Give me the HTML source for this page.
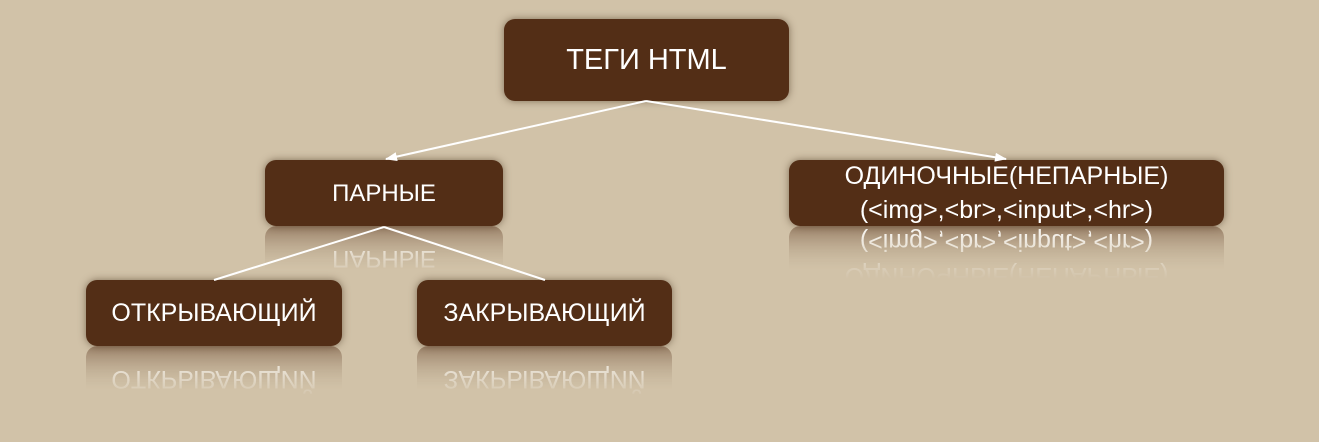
<!DOCTYPE html>
<html><head><meta charset="utf-8"><style>
body{margin:0;width:1319px;height:442px;background:#d1c2a8;position:relative;overflow:hidden;font-family:"Liberation Sans","DejaVu Sans",sans-serif}
.b{position:absolute;background:#532e16;border-radius:11px;color:#fff;display:flex;align-items:center;justify-content:center;text-align:center;box-shadow:0 0 8px rgba(60,40,20,.55);font-size:24px;line-height:31px;white-space:nowrap}
.r{position:absolute;border-radius:11px;color:#fff;display:flex;align-items:center;justify-content:center;text-align:center;font-size:24px;line-height:31px;white-space:nowrap;transform:scaleY(-1);background:linear-gradient(to top,rgba(83,46,22,.5),rgba(209,194,168,0) 70%);-webkit-mask-image:linear-gradient(to top,#000,transparent 80%);mask-image:linear-gradient(to top,#000,transparent 80%);opacity:.9}
</style></head><body>
<svg width="1319" height="442" style="position:absolute;left:0;top:0;z-index:2">
<defs><marker id="a" markerWidth="12" markerHeight="9" refX="11" refY="4.5" orient="auto" markerUnits="userSpaceOnUse"><path d="M0,0L12,4.5L0,9z" fill="#fff"/></marker></defs>
<g stroke="#fff" stroke-width="2" fill="none">
<line x1="646" y1="101" x2="386" y2="159" marker-end="url(#a)"/>
<line x1="646" y1="101" x2="1006" y2="159" marker-end="url(#a)"/>
<line x1="384" y1="227" x2="214" y2="280"/>
<line x1="384" y1="227" x2="545" y2="280"/>
</g></svg>
<div class="b" style="left:504px;top:19px;width:285px;height:82px;font-size:29px">ТЕГИ HTML</div>
<div class="b" style="left:265px;top:160px;width:238px;height:66px;font-size:24px">ПАРНЫЕ</div>
<div class="r" style="left:265px;top:226px;width:238px;height:66px;font-size:24px">ПАРНЫЕ</div>
<div class="b" style="left:789px;top:160px;width:435px;height:66px;font-size:25px;line-height:34px">ОДИНОЧНЫЕ(НЕПАРНЫЕ)<br>(&lt;img&gt;,&lt;br&gt;,&lt;input&gt;,&lt;hr&gt;)</div>
<div class="r" style="left:789px;top:226px;width:435px;height:66px;font-size:25px;line-height:34px">ОДИНОЧНЫЕ(НЕПАРНЫЕ)<br>(&lt;img&gt;,&lt;br&gt;,&lt;input&gt;,&lt;hr&gt;)</div>
<div class="b" style="left:86px;top:280px;width:256px;height:66px;font-size:25px">ОТКРЫВАЮЩИЙ</div>
<div class="r" style="left:86px;top:346px;width:256px;height:66px;font-size:25px">ОТКРЫВАЮЩИЙ</div>
<div class="b" style="left:417px;top:280px;width:255px;height:66px;font-size:25px">ЗАКРЫВАЮЩИЙ</div>
<div class="r" style="left:417px;top:346px;width:255px;height:66px;font-size:25px">ЗАКРЫВАЮЩИЙ</div>
</body></html>
